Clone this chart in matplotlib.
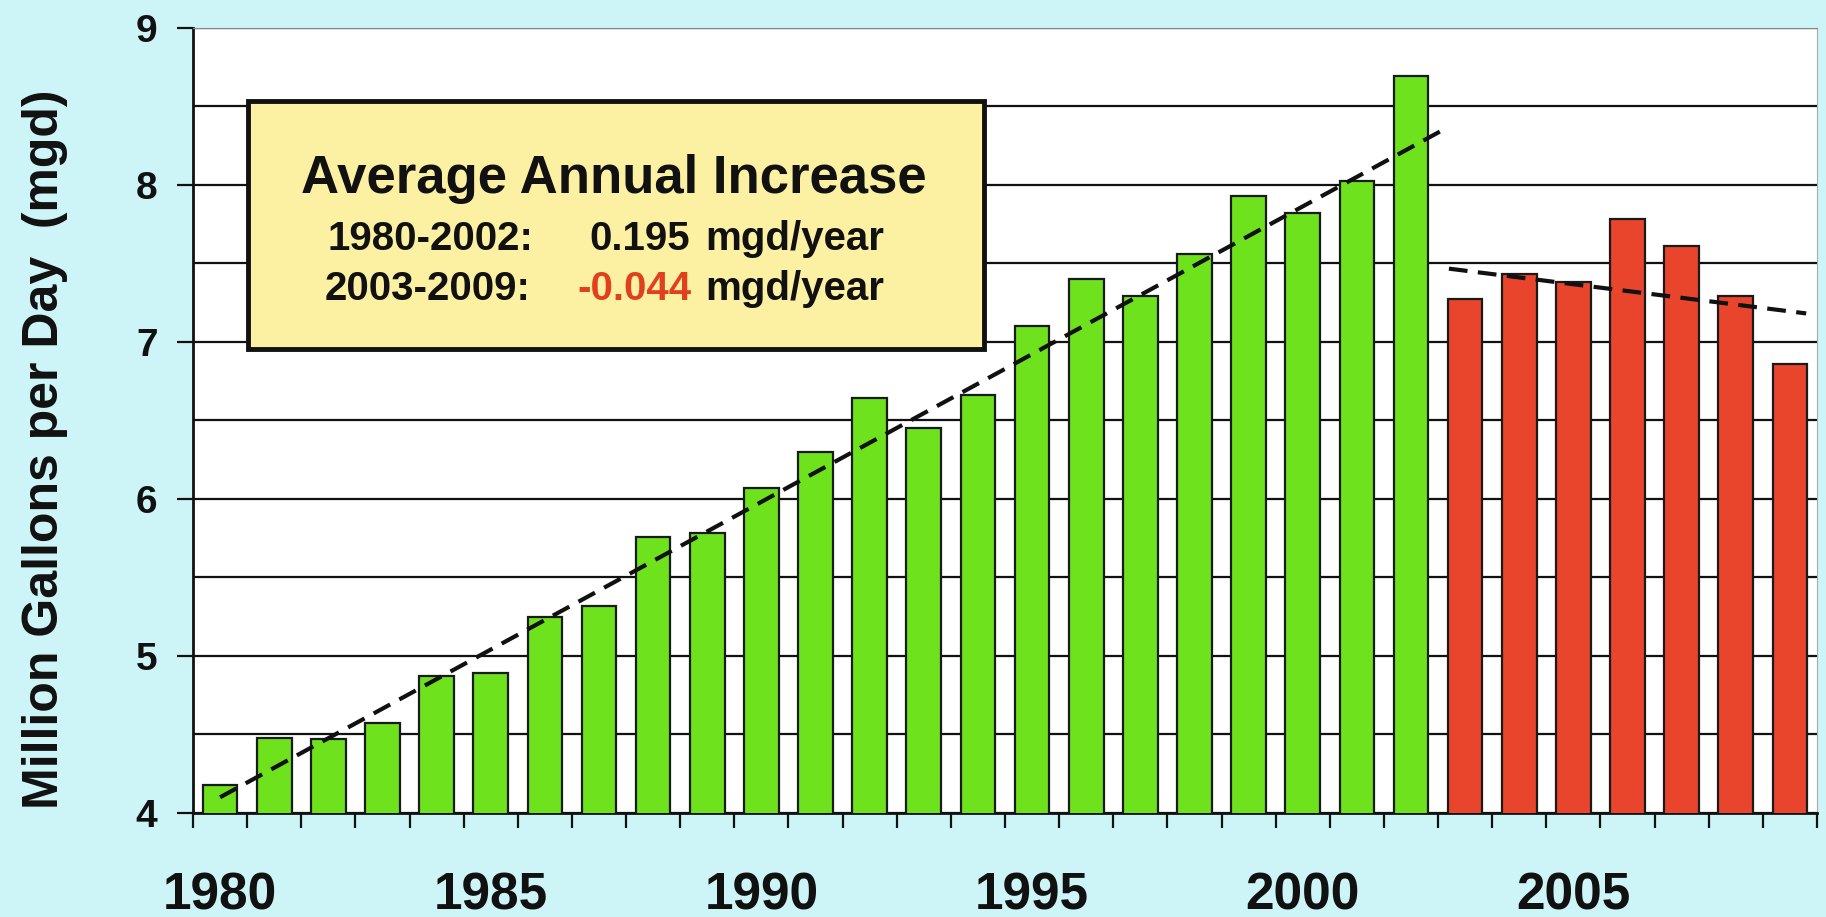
import numpy as np
import matplotlib
matplotlib.use("Agg")
import matplotlib.pyplot as plt
from matplotlib.patches import Rectangle

plt.rcParams['font.family'] = ['Liberation Sans', 'DejaVu Sans']
plt.rcParams['font.weight'] = 'bold'

# water use, million gallons per day
years = list(range(1980, 2010))
mgd = [4.18, 4.48, 4.47, 4.57, 4.87, 4.89, 5.25, 5.32, 5.76, 5.78,
       6.07, 6.30, 6.64, 6.45, 6.66, 7.10, 7.40, 7.29, 7.56, 7.93,
       7.82, 8.02, 8.69, 7.27, 7.43, 7.38, 7.78, 7.61, 7.29, 6.86]
split_year = 2003

# trend lines (x in years, y in mgd)
trend1_x = [1980.0, 2002.6]
trend1_y = [4.10, 8.35]
trend2_x = [2002.7, 2009.3]
trend2_y = [7.465, 7.18]

year_labels = [1980, 1985, 1990, 1995, 2000, 2005]

bg = '#cdf5f8'
green = '#6ee21c'
red = '#e8452c'

fig = plt.figure(figsize=(18.26, 9.17), dpi=100, facecolor=bg)
ax = fig.add_axes([193 / 1826, 1 - 813 / 917, (1817 - 193) / 1826, (813 - 27.5) / 917])
ax.set_facecolor('white')

colors = [green if y < split_year else red for y in years]
ax.bar(years, mgd, width=0.64, bottom=0, color=colors, edgecolor='#1a1a1a',
       linewidth=1.6, zorder=3)

ax.plot(trend1_x, trend1_y, color='#111111', lw=3, dashes=(4.5, 2.5), zorder=4)
ax.plot(trend2_x, trend2_y, color='#111111', lw=3, dashes=(4.5, 2.5), zorder=4)

ax.set_xlim(1979.5, 2009.5)
ax.set_ylim(4, 9)

# y axis
ax.set_yticks(range(4, 10))
ax.set_yticks(np.arange(4.5, 9, 1.0), minor=True)
ax.yaxis.grid(True, which='both', color='#111111', lw=1.6, zorder=1)
ax.tick_params(axis='y', which='major', length=11.5, width=1.6, direction='out',
               labelsize=28, pad=14, colors='#111111')
ax.tick_params(axis='y', which='minor', length=0)

# x axis: labels at years, tick marks between bars
ax.set_xticks(year_labels)
ax.set_xticks(np.arange(1979.5, 2010, 1.0), minor=True)
ax.tick_params(axis='x', which='major', length=0, labelsize=37, pad=42,
               colors='#111111')
ax.tick_params(axis='x', which='minor', length=11, width=1.6, direction='out',
               color='#111111')

for lab in ax.get_xticklabels() + ax.get_yticklabels():
    lab.set_fontweight('bold')

ax.spines['left'].set_color('#111111')
ax.spines['left'].set_linewidth(2)
ax.spines['bottom'].set_color('#111111')
ax.spines['bottom'].set_linewidth(2)
ax.spines['top'].set_color('#888888')
ax.spines['right'].set_color('#aaaaaa')
ax.set_axisbelow(True)

fig.text(45 / 1826, 1 - 449 / 917, 'Million Gallons per Day  (mgd)', rotation=90,
         ha='center', va='center', fontsize=36, fontweight='bold', color='#111111')

# annotation box
x0, x1 = 248 / 1826, 984 / 1826
y0, y1 = 1 - 349 / 917, 1 - 101 / 917
fig.add_artist(Rectangle((x0, y0), x1 - x0, y1 - y0, transform=fig.transFigure,
                         facecolor='#fcf0a2', edgecolor='#111111', lw=3.5, zorder=5))


def ftext(px, py, s, **kw):
    fig.text(px / 1826, 1 - py / 917, s, va='baseline', fontweight='bold',
             color=kw.pop('color', '#111111'), zorder=6, **kw)


ftext(614, 193, 'Average Annual Increase', ha='center', fontsize=38)
ftext(328, 250, '1980-2002:', ha='left', fontsize=29)
ftext(690, 250, '0.195', ha='right', fontsize=29)
ftext(705, 250, 'mgd/year', ha='left', fontsize=29)
ftext(325, 300, '2003-2009:', ha='left', fontsize=29)
ftext(691, 300, '-0.044', ha='right', fontsize=29, color='#e0401e')
ftext(705, 300, 'mgd/year', ha='left', fontsize=29)

fig.savefig('out.png', dpi=100, facecolor=bg)
